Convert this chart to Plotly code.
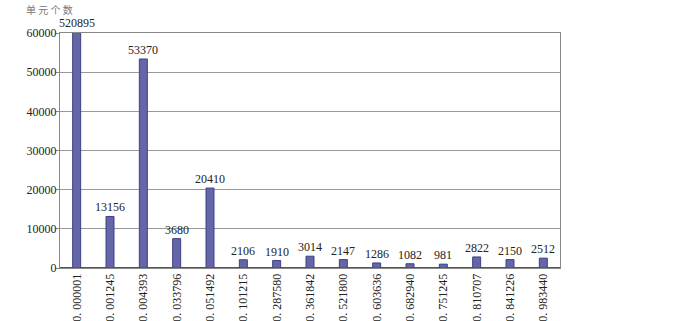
import plotly.graph_objects as go

categories = ["0. 000001", "0. 001245", "0. 004393", "0. 033796", "0. 051492",
              "0. 101215", "0. 287580", "0. 361842", "0. 521800", "0. 603636",
              "0. 682940", "0. 751245", "0. 810707", "0. 841226", "0. 983440"]
# labelled counts
value_labels = [520895, 13156, 53370, 3680, 20410, 2106, 1910, 3014, 2147,
                1286, 1082, 981, 2822, 2150, 2512]
# bar heights as drawn in the picture
bar_heights = [520895, 13156, 53370, 7500, 20410, 2106, 1910, 3014, 2147,
               1286, 1082, 981, 2822, 2150, 2512]
y_max = 60000
y_ticks = [0, 10000, 20000, 30000, 40000, 50000, 60000]
y_tick_text = ["0", "10000", "20000", "30000", "40000", "50000", "60000"]

serif = "Liberation Serif"

fig = go.Figure()
fig.add_trace(go.Bar(
    x=categories, y=bar_heights,
    marker=dict(color="#6466a8", line=dict(color="#3e4185", width=1)),
    hoverinfo="skip",
))

annotations = [dict(
    text="单 元 个 数", xref="paper", yref="paper",
    x=-0.072, y=1.1, xanchor="left", yanchor="middle", showarrow=False,
    font=dict(family="Noto Sans CJK SC", size=10, color="#777"),
)]
for cat, h, v in zip(categories, bar_heights, value_labels):
    annotations.append(dict(
        x=cat, y=min(h, y_max), xref="x", yref="y", text=str(v),
        showarrow=False, xanchor="center", yanchor="bottom",
        yshift=1 if h > y_max else 0,
        font=dict(family=serif, size=12, color="#222"),
    ))

fig.update_layout(
    width=700, height=321,
    margin=dict(l=60, r=140, t=33, b=53),
    paper_bgcolor="white", plot_bgcolor="white",
    showlegend=False, bargap=0.76,
    font=dict(family=serif, size=12, color="#222"),
    annotations=annotations,
)
fig.update_xaxes(
    type="category", range=[-0.5, 14.5], automargin=False,
    tickangle=-90, tickfont=dict(family=serif, size=12, color="#222"),
    showline=True, mirror=True, linecolor="#888", linewidth=1,
    showgrid=False, ticks="",
)
fig.update_yaxes(
    range=[0, y_max], tickvals=y_ticks, ticktext=y_tick_text, automargin=False,
    tickfont=dict(family=serif, size=12, color="#222"),
    showgrid=True, gridcolor="#999", gridwidth=1,
    showline=True, mirror=True, linecolor="#888", linewidth=1,
    zeroline=True, zerolinecolor="#555", zerolinewidth=2,
    ticks="outside", ticklen=3, tickcolor="#888", ticklabelstandoff=-3,
)

fig.write_html(
    "out.html",
    config={"displayModeBar": False},
    post_script="document.body.style.margin='0';document.body.style.overflow='hidden';",
)
